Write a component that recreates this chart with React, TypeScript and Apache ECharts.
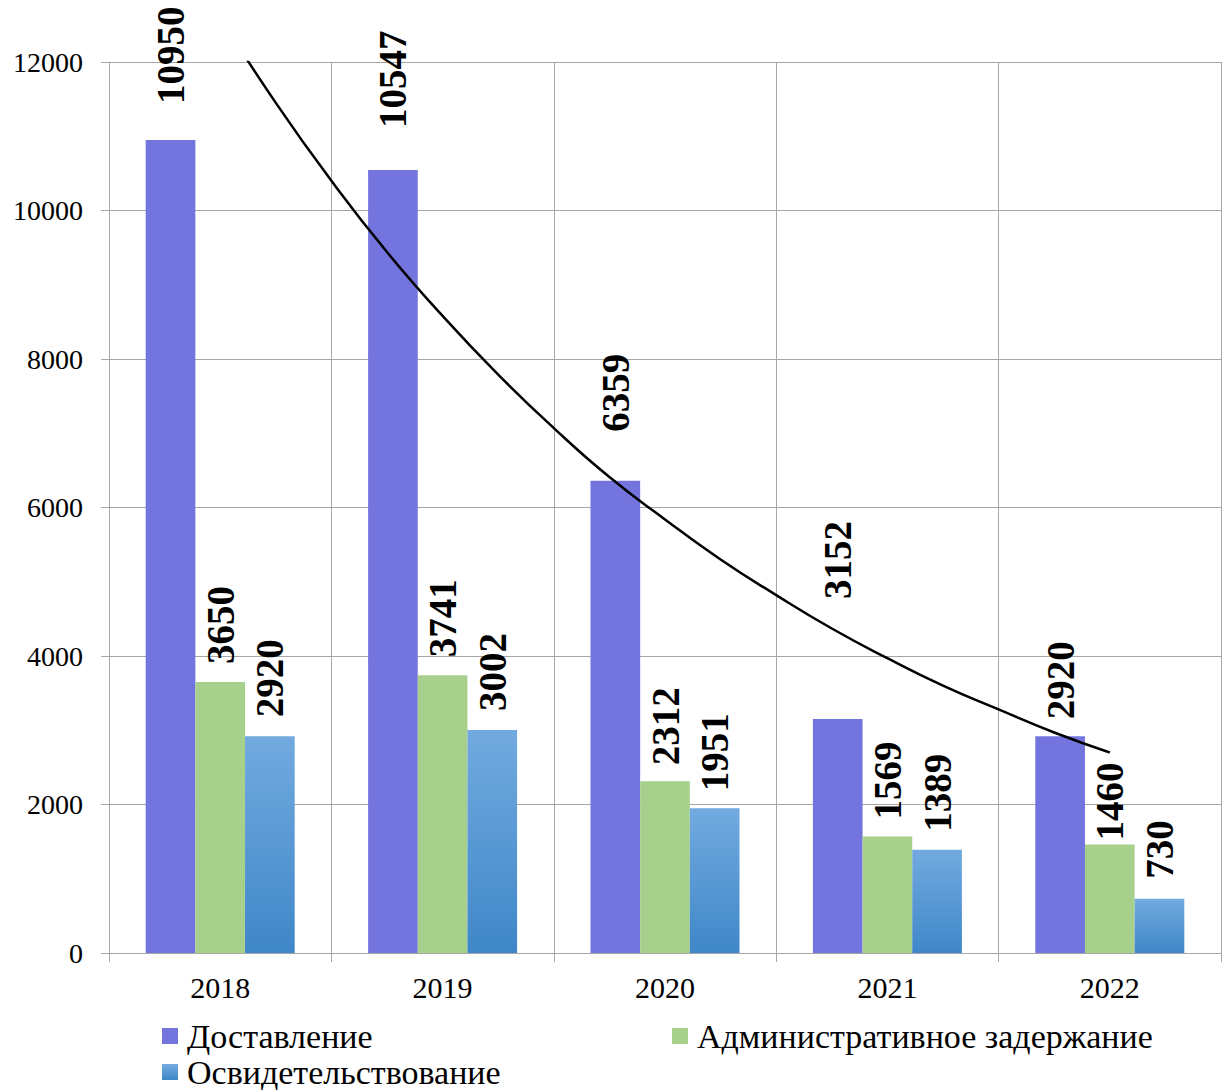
import React, { useEffect, useRef } from "react";
import * as echarts from "echarts";

const categories = ["2018", "2019", "2020", "2021", "2022"];
const seriesNames = ["Доставление", "Административное задержание", "Освидетельствование"];
const delivery = [10950, 10547, 6359, 3152, 2920];
const detention = [3650, 3741, 2312, 1569, 1460];
const examination = [2920, 3002, 1951, 1389, 730];
// trend curve (x = category position 1..5)
const trendX = [1, 1.25, 1.5, 1.75, 2, 2.25, 2.5, 2.75, 3, 3.25, 3.5, 3.75, 4, 4.25, 4.5, 4.75, 5];
const trendY = [12600, 11450, 10400, 9440, 8580, 7790, 7070, 6410, 5840, 5300, 4820, 4370, 3970, 3600, 3280, 2970, 2700];

// label gaps above the bars (px)
const deliveryGap = [36, 42, 49, 120, 17];
const detentionGap = [18, 18, 16, 17, 4];
const examinationGap = [19, 19, 17, 18, 20];

const FONT = "Liberation Serif";
const GRID = "#a6a6a6";

const labelBase = {
  show: true,
  position: "top",
  rotate: 90,
  align: "left",
  verticalAlign: "middle",
  color: "#000",
  fontFamily: FONT,
  fontWeight: "bold",
  fontSize: 39,
};

function withGaps(vals: number[], gaps: number[]) {
  return vals.map((v, i) => ({ value: v, label: { distance: gaps[i] } }));
}

export default function App() {
  const ref = useRef<HTMLDivElement>(null);
  useEffect(() => {
    if (!ref.current) return;
    const chart = echarts.init(ref.current, null, { renderer: "svg" });
    const blue = new echarts.graphic.LinearGradient(0, 0, 0, 1, [
      { offset: 0, color: "#72aadf" },
      { offset: 1, color: "#3f87c9" },
    ]);
    const legendText = { fontFamily: FONT, fontSize: 34, color: "#000", padding: [0, 0, 0, 4] };
    const legendCommon = { padding: 0, icon: "rect", itemWidth: 16, itemHeight: 16, textStyle: legendText };
    chart.setOption({
      animation: false,
      backgroundColor: "#fff",
      textStyle: { fontFamily: FONT },
      grid: { left: 109, right: 9, top: 62, bottom: 137, containLabel: false },
      legend: [
        { ...legendCommon, data: [seriesNames[0]], left: 162, top: 1019 },
        { ...legendCommon, data: [seriesNames[1]], left: 672, top: 1019 },
        { ...legendCommon, data: [seriesNames[2]], left: 162, top: 1055 },
      ],
      xAxis: [
        {
          type: "category",
          data: categories,
          boundaryGap: true,
          axisLine: { lineStyle: { color: GRID, width: 1 } },
          axisTick: { show: true, length: 9, interval: 0, lineStyle: { color: GRID } },
          splitLine: { show: true, interval: 0, lineStyle: { color: GRID, width: 1 } },
          axisLabel: { fontFamily: FONT, fontSize: 30, color: "#000", margin: 19 },
        },
        {
          type: "value",
          min: 0.5,
          max: 5.5,
          show: false,
        },
      ],
      yAxis: {
        type: "value",
        min: 0,
        max: 12000,
        interval: 2000,
        axisLine: { show: true, lineStyle: { color: GRID, width: 1 } },
        axisTick: { show: true, length: 8, lineStyle: { color: GRID } },
        splitLine: { show: true, lineStyle: { color: GRID, width: 1 } },
        axisLabel: {
          fontFamily: FONT,
          fontSize: 28,
          color: "#000",
          margin: 26,
          formatter: (v: number) => String(v),
        },
      },
      series: [
        {
          name: seriesNames[0],
          type: "bar",
          data: withGaps(delivery, deliveryGap),
          barGap: "0%",
          barCategoryGap: "33%",
          itemStyle: { color: "#7474df" },
          label: labelBase,
        },
        {
          name: seriesNames[1],
          type: "bar",
          data: withGaps(detention, detentionGap),
          barGap: "0%",
          barCategoryGap: "33%",
          itemStyle: { color: "#a8d08d" },
          label: labelBase,
        },
        {
          name: seriesNames[2],
          type: "bar",
          data: withGaps(examination, examinationGap),
          barGap: "0%",
          barCategoryGap: "33%",
          itemStyle: { color: blue },
          label: labelBase,
        },
        {
          name: "trend",
          type: "line",
          xAxisIndex: 1,
          data: trendX.map((x, i) => [x, trendY[i]]),
          smooth: true,
          symbol: "none",
          clip: true,
          lineStyle: { color: "#000", width: 2.5 },
          z: 5,
        },
      ],
    });
    return () => chart.dispose();
  }, []);
  return (
    <div
      ref={ref}
      style={{ position: "absolute", left: 0, top: 0, width: 1230, height: 1090 }}
    />
  );
}
